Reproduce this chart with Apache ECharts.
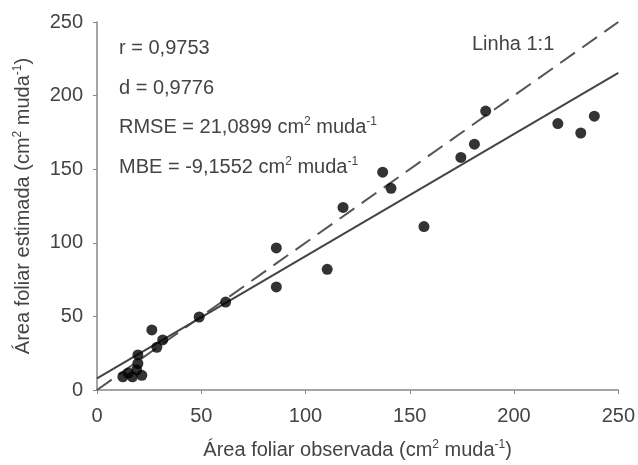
<!DOCTYPE html>
<html>
<head>
<meta charset="utf-8">
<script src="https://cdn.jsdelivr.net/npm/echarts@6/dist/echarts.min.js"></script>
<style>
  html, body { margin: 0; padding: 0; background: #fff; }
  #chart { width: 638px; height: 465px; }
</style>
</head>
<body>
<div id="chart"></div>
<script>
// observed vs estimated leaf area (cm2 per seedling)
const observed = [12.4, 15, 17, 19, 19.6, 21.5, 19.6, 26.3, 28.7, 31.5, 49, 61.7, 86, 86, 110.4, 118, 137, 141, 156.8, 174.5, 181, 186.4, 221, 232, 238.5]
const estimated = [9, 11.5, 9, 13.6, 18, 10, 23.8, 40.8, 29, 34, 49.6, 59.7, 96.5, 70, 82, 124, 148, 137, 111, 158, 167, 189.5, 181, 174.6, 186]
const fitIntercept = 7.9
const fitSlope = 0.83
const lineRange = [0, 250]
const axisTicks = [0, 50, 100, 150, 200, 250]

const points = observed.map((x, i) => [x, estimated[i]])
const fitLine = lineRange.map(x => [x, fitIntercept + fitSlope * x])
const oneToOne = lineRange.map(x => [x, x])

const font = 'Liberation Sans, Arial, sans-serif'
const textColor = '#444'
// axis names use "color", graphic texts use "fill"
const rich = {
  a: { fontSize: 20, color: textColor, fontFamily: font },
  s: { fontSize: 12, color: textColor, fontFamily: font, verticalAlign: 'top', padding: [0, 0, 10, 0] }
}
const richG = {
  a: { fontSize: 20, fill: textColor, fontFamily: font },
  s: { fontSize: 12, fill: textColor, fontFamily: font, verticalAlign: 'top', padding: [0, 0, 10, 0] }
}

const chart = echarts.init(document.getElementById('chart'))
chart.setOption({
  animation: false,
  backgroundColor: '#fff',
  grid: { left: 97, right: 16, top: 22, bottom: 75 },
  xAxis: {
    type: 'value',
    min: axisTicks[0],
    max: axisTicks[axisTicks.length - 1],
    interval: 50,
    name: '{a|Área foliar observada (cm}{s|2}{a| muda}{s|-1}{a|)}',
    nameLocation: 'middle',
    nameGap: 49,
    nameTextStyle: { rich },
    axisLine: { lineStyle: { color: '#888', width: 1.5 } },
    axisTick: { show: true, length: 4, lineStyle: { color: '#888' } },
    axisLabel: { fontSize: 20, color: textColor, fontFamily: font, margin: 16 },
    splitLine: { show: false }
  },
  yAxis: {
    type: 'value',
    min: axisTicks[0],
    max: axisTicks[axisTicks.length - 1],
    interval: 50,
    name: '{a|Área foliar estimada (cm}{s|2}{a| muda}{s|-1}{a|)}',
    nameLocation: 'middle',
    nameGap: 63,
    nameTextStyle: { rich },
    axisLine: { show: true, lineStyle: { color: '#888', width: 1.5 } },
    axisTick: { show: true, length: 4, lineStyle: { color: '#888' } },
    axisLabel: { fontSize: 20, color: textColor, fontFamily: font, margin: 14 },
    splitLine: { show: false }
  },
  graphic: [
    { type: 'text', left: 119, top: 38, style: { text: 'r = 0,9753', font: '20px ' + font, fill: textColor } },
    { type: 'text', left: 119, top: 78, style: { text: 'd = 0,9776', font: '20px ' + font, fill: textColor } },
    { type: 'text', left: 119, top: 116, style: { text: '{a|RMSE = 21,0899 cm}{s|2}{a| muda}{s|-1}', rich: richG } },
    { type: 'text', left: 119, top: 156, style: { text: '{a|MBE = -9,1552 cm}{s|2}{a| muda}{s|-1}', rich: richG } },
    { type: 'text', left: 472, top: 34, style: { text: 'Linha 1:1', font: '20px ' + font, fill: textColor } }
  ],
  series: [
    {
      type: 'line',
      data: oneToOne,
      symbol: 'none',
      lineStyle: { color: '#555', width: 2, type: [18, 9] },
      z: 2
    },
    {
      type: 'line',
      data: fitLine,
      symbol: 'none',
      lineStyle: { color: '#444', width: 2 },
      z: 2
    },
    {
      type: 'scatter',
      data: points,
      symbolSize: 11,
      itemStyle: { color: '#000' },
      z: 3
    }
  ]
})
</script>
</body>
</html>
